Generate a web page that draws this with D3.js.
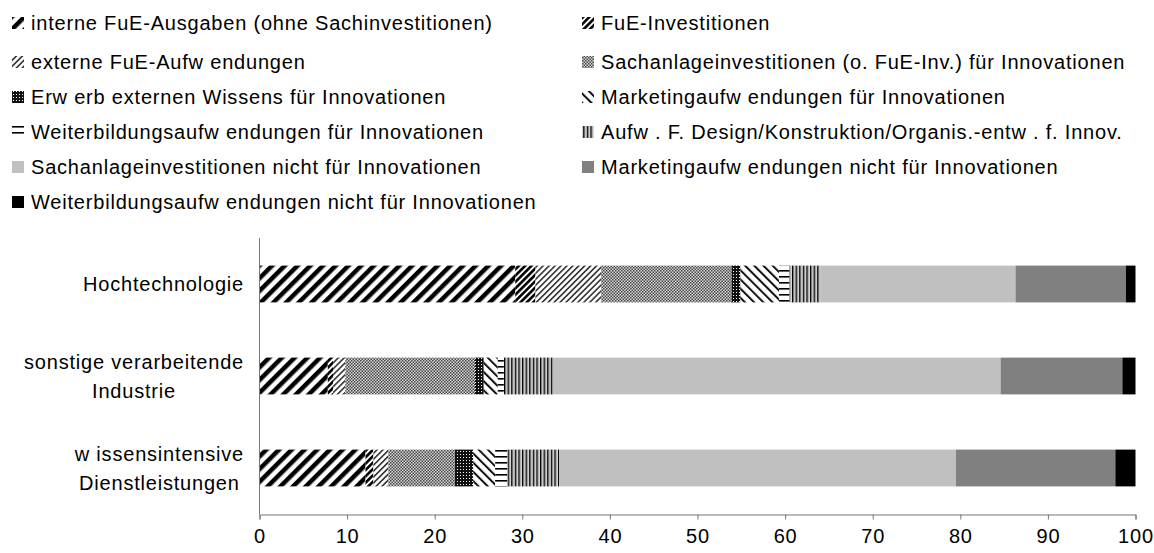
<!DOCTYPE html>
<html>
<head>
<meta charset="utf-8">
<script src="https://cdn.jsdelivr.net/npm/d3@7"></script>
<style>
  body { margin: 0; background: #fff; }
  text { font-family: "Liberation Sans", Arial, sans-serif; font-size: 20px; fill: #000; letter-spacing: 0.8px; }
</style>
</head>
<body>
<svg id="chart" width="1154" height="553"></svg>
<script>
// categories (top to bottom), label lines as printed
var categories = ["Hochtechnologie", "sonstige verarbeitende Industrie", "wissensintensive Dienstleistungen"];
var categoryLines = [["Hochtechnologie"], ["sonstige verarbeitende", "Industrie"], ["w issensintensive", "Dienstleistungen"]];

// series names, in stacking order
var seriesNames = [
  "interne FuE-Ausgaben (ohne Sachinvestitionen)",
  "FuE-Investitionen",
  "externe FuE-Aufw endungen",
  "Sachanlageinvestitionen (o. FuE-Inv.) für Innovationen",
  "Erw erb externen Wissens für Innovationen",
  "Marketingaufw endungen für Innovationen",
  "Weiterbildungsaufw endungen für Innovationen",
  "Aufw . F. Design/Konstruktion/Organis.-entw . f. Innov.",
  "Sachanlageinvestitionen nicht für Innovationen",
  "Marketingaufw endungen nicht für Innovationen",
  "Weiterbildungsaufw endungen nicht für Innovationen"
];

// shares in % per category (Hochtechnologie, sonstige Industrie, wissensint. DL)
var interneFuE       = [29.2, 7.8, 12.1];
var fueInvest        = [2.3, 0.6, 0.9];
var externeFuE       = [7.5, 1.4, 1.7];
var sachanlageInno   = [14.9, 14.8, 7.6];
var erwerbWissen     = [1.0, 1.0, 2.1];
var marketingInno    = [4.4, 1.6, 2.5];
var weiterbildInno   = [1.2, 0.7, 1.4];
var designInno       = [3.5, 5.6, 5.9];
var sachanlageNicht  = [22.3, 51.1, 45.3];
var marketingNicht   = [12.6, 13.9, 18.2];
var weiterbildNicht  = [1.1, 1.5, 2.3];

var xTicks = [0, 10, 20, 30, 40, 50, 60, 70, 80, 90, 100];

var seriesValues = [interneFuE, fueInvest, externeFuE, sachanlageInno, erwerbWissen,
  marketingInno, weiterbildInno, designInno, sachanlageNicht, marketingNicht, weiterbildNicht];

var rows = categories.map(function(c, i) {
  var r = { category: c };
  seriesNames.forEach(function(s, j) { r[s] = seriesValues[j][i]; });
  return r;
});

var svg = d3.select("#chart");
var defs = svg.append("defs");

// hatch patterns (Excel-like b/w fills)
function stripes(id, angle, size, w, color) {
  var p = defs.append("pattern").attr("id", id).attr("patternUnits", "userSpaceOnUse")
    .attr("width", size).attr("height", size).attr("patternTransform", "rotate(" + angle + ")");
  p.append("rect").attr("width", size).attr("height", size).attr("fill", "#fff");
  p.append("rect").attr("width", w).attr("height", size).attr("fill", color);
}
stripes("p0", 45, 9, 4.5, "#000");
stripes("p1", 45, 4.5, 2.6, "#000");
stripes("p2", 45, 4.2, 1.6, "#333");

var p3 = defs.append("pattern").attr("id", "p3").attr("patternUnits", "userSpaceOnUse").attr("width", 3).attr("height", 3);
p3.append("rect").attr("width", 3).attr("height", 3).attr("fill", "#d8d8d8");
p3.append("rect").attr("width", 1.5).attr("height", 1.5).attr("fill", "#444");
p3.append("rect").attr("x", 1.5).attr("y", 1.5).attr("width", 1.5).attr("height", 1.5).attr("fill", "#444");

var p4 = defs.append("pattern").attr("id", "p4").attr("patternUnits", "userSpaceOnUse").attr("width", 3).attr("height", 3);
p4.append("rect").attr("width", 3).attr("height", 3).attr("fill", "#111");
p4.append("rect").attr("x", 1).attr("y", 1).attr("width", 1).attr("height", 1).attr("fill", "#fff");

stripes("p5", -45, 6.5, 2, "#111");

var p6 = defs.append("pattern").attr("id", "p6").attr("patternUnits", "userSpaceOnUse").attr("width", 4).attr("height", 6);
p6.append("rect").attr("width", 4).attr("height", 6).attr("fill", "#fff");
p6.append("rect").attr("width", 4).attr("height", 1.6).attr("fill", "#000");

var p7 = defs.append("pattern").attr("id", "p7").attr("patternUnits", "userSpaceOnUse").attr("width", 3.6).attr("height", 4);
p7.append("rect").attr("width", 3.6).attr("height", 4).attr("fill", "#fff");
p7.append("rect").attr("width", 1.4).attr("height", 4).attr("fill", "#000");
p7.append("rect").attr("x", 2.2).attr("width", 0.8).attr("height", 4).attr("fill", "#888");

var fills = ["url(#p0)", "url(#p1)", "url(#p2)", "url(#p3)", "url(#p4)", "url(#p5)", "url(#p6)", "url(#p7)",
  "#c0c0c0", "#808080", "#000"];

var x = d3.scaleLinear().domain([0, 100]).range([259.5, 1135.5]);
var y = d3.scaleBand().domain(categories).range([238, 514]).paddingInner(0.6).paddingOuter(0.3);

var stacked = d3.stack().keys(seriesNames)(rows);

svg.append("g").selectAll("g")
  .data(stacked)
  .join("g")
  .attr("fill", function(d, i) { return fills[i]; })
  .selectAll("rect")
  .data(function(d) { return d; })
  .join("rect")
  .attr("x", function(d) { return x(d[0]); })
  .attr("width", function(d) { return x(d[1]) - x(d[0]); })
  .attr("y", function(d) { return y(d.data.category); })
  .attr("height", y.bandwidth());

// axes
var xAxis = svg.append("g").attr("transform", "translate(0,514.5)")
  .call(d3.axisBottom(x).tickValues(xTicks).tickSize(5).tickSizeOuter(5).tickPadding(9));
xAxis.selectAll("path, line").attr("stroke", "#777");
xAxis.selectAll("text").style("font-size", "20px").attr("font-family", null);

svg.append("line").attr("x1", 259.5).attr("x2", 259.5).attr("y1", 238).attr("y2", 514.5).attr("stroke", "#777");

// category labels: lines centred, block right-aligned
categoryLines.forEach(function(lines, i) {
  var g = svg.append("g");
  var cy = y(categories[i]) + y.bandwidth() / 2;
  var lh = 29;
  var t = g.selectAll("text").data(lines).join("text")
    .attr("text-anchor", "middle")
    .attr("dy", "0.35em")
    .attr("y", function(d, k) { return cy + (k - (lines.length - 1) / 2) * lh; })
    .text(function(d) { return d; });
  var maxW = d3.max(t.nodes(), function(n) { return n.getComputedTextLength(); });
  t.attr("x", 244 - maxW / 2);
});

// legend, two columns
var legend = svg.append("g");
var legCols = [12, 582];
seriesNames.forEach(function(s, i) {
  var col = i % 2, row = Math.floor(i / 2);
  var lx = legCols[col], ly = row === 0 ? 23 : 27 + row * 35;
  legend.append("rect").attr("x", lx).attr("y", ly - 6).attr("width", 12).attr("height", 12).attr("fill", fills[i]);
  legend.append("text").attr("x", lx + 19).attr("y", ly).attr("dy", "0.35em").text(s);
});
</script>
</body>
</html>
